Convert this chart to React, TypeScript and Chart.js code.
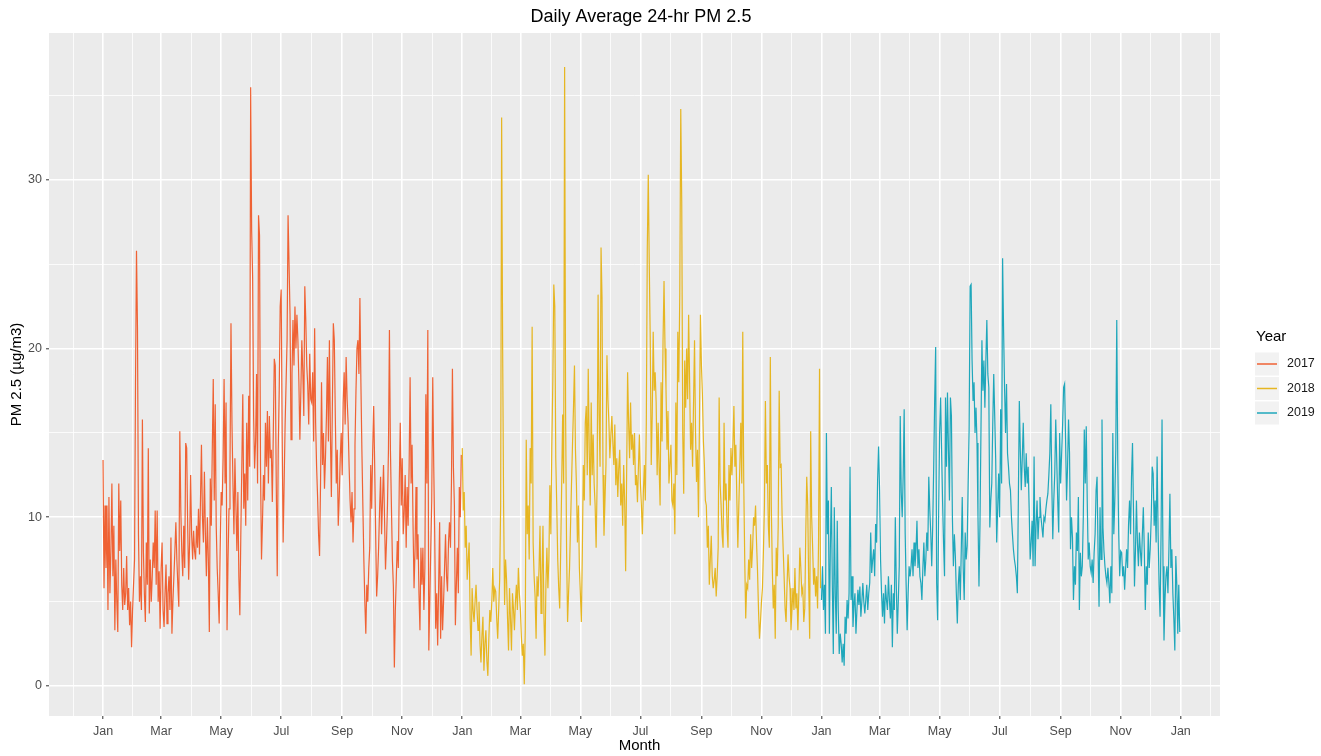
import React, { useEffect, useRef } from "react";
import { Chart, registerables } from "chart.js";

Chart.register(...registerables);

// ---------- data (daily 24-hr PM 2.5, µg/m3) ----------
const years = ["2017", "2018", "2019"];
const yearOffsets = [0, 365, 730]; // day index of 1 Jan of each year, counted from 1 Jan 2017

const pm2017 = [
  13.4, 5.8, 10.7, 7.0, 10.7, 4.5, 11.2, 5.5, 8.0, 12.0,
  6.5, 9.5, 3.3, 7.5, 5.0, 3.2, 12.0, 8.0, 11.0, 6.0,
  4.5, 7.0, 4.8, 5.5, 7.7, 4.5, 5.8, 3.6, 5.0, 2.3,
  4.5, 6.0, 7.5, 18.0, 25.8, 21.2, 9.0, 5.0, 6.5, 4.5,
  15.8, 8.0, 5.5, 3.8, 8.5, 6.0, 14.1, 4.3, 7.5, 5.0,
  6.5, 8.5, 7.0, 10.4, 6.0, 10.4, 5.0, 6.8, 3.4, 7.0,
  8.5, 4.5, 3.5, 5.5, 7.2, 3.7, 5.5, 6.5, 4.5, 8.8,
  3.1, 5.0, 6.5, 8.0, 9.7, 7.5, 6.0, 4.7, 15.1, 10.5,
  8.0, 6.5, 9.5, 7.0, 14.4, 14.1, 9.5, 6.3, 8.5, 12.5,
  9.0, 7.5, 9.2, 8.0, 7.5, 9.5, 8.2, 10.5, 7.8, 11.0,
  14.3, 10.0, 8.5, 12.7, 9.0, 6.5, 10.0, 7.5, 3.2, 12.3,
  9.5, 14.0, 18.2, 11.0, 16.7, 9.5, 7.0, 5.5, 3.7, 8.0,
  11.5, 10.7, 13.5, 18.2, 12.0, 16.8, 3.3, 7.5, 10.5, 13.0,
  21.5, 15.6, 12.0, 9.0, 13.5, 10.7, 8.0, 11.5, 6.5, 4.2,
  9.0, 13.0, 17.3, 10.5, 12.6, 9.5, 15.6, 11.0, 17.2, 13.0,
  35.5, 27.0, 24.2, 16.0, 12.9, 14.5, 18.5, 12.0, 27.9, 26.7,
  13.0, 7.5, 9.7, 12.5, 11.0, 15.6, 13.0, 16.3, 12.0, 16.0,
  13.5, 14.0, 10.9, 15.0, 19.4, 19.0, 12.0, 6.5, 14.0, 17.5,
  22.5, 23.5, 15.0, 8.5, 12.0, 15.5, 18.0, 20.5, 27.9, 25.0,
  22.0, 14.6, 18.5, 21.7, 19.0, 22.5, 20.0, 22.0, 20.5, 18.0,
  14.6, 17.5, 20.5, 18.6, 16.0, 23.7, 21.7, 19.0, 17.8, 15.5,
  19.7, 17.0, 16.8, 18.6, 14.5, 21.2, 15.6, 13.0, 11.2, 9.0,
  7.7, 12.0, 18.0, 13.1, 15.0, 11.7, 13.5, 16.0, 19.5, 14.5,
  20.5, 15.0, 11.2, 16.5, 21.5, 20.5, 16.0, 12.0, 14.0, 9.5,
  11.2, 13.5, 15.0, 12.5, 16.8, 18.6, 15.5, 19.5, 17.0, 15.6,
  13.1, 11.0, 9.7, 11.5, 8.5, 10.5, 14.3, 17.5, 20.0, 20.5,
  18.5, 23.0, 18.0, 14.0, 10.7, 7.5, 5.0, 3.1, 6.0, 5.0,
  7.0, 8.2, 13.1, 10.5, 14.0, 16.6, 13.1, 9.0, 5.3, 6.5,
  8.2, 10.5, 12.4, 9.0, 11.0, 13.1, 10.0, 6.9, 8.5, 10.7,
  14.0, 21.1, 14.0, 10.7, 7.5, 5.9, 1.1, 4.5, 6.5, 8.6,
  7.0, 12.0, 15.6, 10.7, 13.5, 9.0, 10.3, 12.5, 8.2, 11.8,
  9.5, 13.0, 18.3, 12.0, 14.3, 9.5, 5.8, 8.0, 11.8, 7.5,
  9.0, 5.5, 3.3, 8.2, 6.0, 8.2, 4.5, 7.0, 17.3, 12.0,
  21.1, 2.1, 5.0, 8.2, 11.0, 18.3, 13.1, 9.0, 3.4, 5.5,
  2.4, 6.0, 9.7, 2.8, 6.5, 3.3, 5.0, 7.0, 9.0, 6.5,
  5.6, 8.5, 9.7, 8.2, 12.0, 18.8, 13.0, 10.7, 3.6, 6.0,
  8.2, 5.5, 11.8, 10.0, 13.7,
];

const pm2018 = [
  14.1, 10.4, 11.5, 8.2, 9.5, 6.3, 7.5, 8.5, 4.0, 1.8,
  5.8, 4.5, 3.8, 5.0, 6.0, 4.5, 3.3, 5.0, 2.5, 1.4,
  3.0, 4.1, 0.9, 2.5, 3.3, 1.5, 0.6, 2.8, 4.5, 3.8,
  5.0, 7.0, 5.0, 5.8, 5.6, 4.0, 2.8, 4.5, 6.3, 10.7,
  33.7, 20.3, 10.7, 4.8, 7.5, 6.3, 4.0, 2.1, 5.8, 4.0,
  2.1, 5.5, 4.6, 3.3, 5.0, 6.0, 4.5, 7.0, 5.5, 4.6,
  3.0, 1.8, 2.5, 0.1, 3.3, 14.6, 9.0, 10.7, 7.5, 14.1,
  12.0, 21.3, 8.5, 6.5, 5.3, 2.8, 6.5, 5.3, 7.0, 9.5,
  4.3, 6.5, 9.5, 4.0, 1.8, 6.0, 8.2, 5.8, 7.5, 11.9,
  9.0, 14.3, 18.0, 23.8, 22.5, 13.5, 10.7, 7.5, 5.8, 4.6,
  8.0, 11.9, 16.1, 12.0, 36.7, 16.1, 8.0, 3.8, 5.5, 7.0,
  9.5, 12.0, 14.3, 16.5, 19.0, 14.0, 11.9, 8.5, 10.7, 7.0,
  5.5, 3.8, 8.0, 13.1, 11.0, 15.6, 16.6, 12.5, 18.8, 14.0,
  10.7, 16.8, 12.5, 14.9, 12.0, 10.7, 8.2, 12.0, 23.2, 16.1,
  13.0, 26.0, 23.0, 12.5, 8.9, 11.0, 13.1, 19.6, 17.0, 15.6,
  13.5, 14.9, 16.0, 14.4, 13.1, 15.5, 11.9, 13.5, 11.2, 12.9,
  14.0, 10.7, 12.0, 9.5, 13.1, 11.0, 6.8, 12.5, 18.6, 15.6,
  13.5, 16.8, 14.0, 14.9, 13.1, 15.0, 11.9, 12.5, 10.9, 13.0,
  14.9, 12.0, 10.7, 9.0, 11.5, 13.1, 11.0, 15.6, 26.0, 30.3,
  25.0, 20.5, 13.1, 16.0, 21.0, 17.5, 18.6, 16.8, 12.5, 15.6,
  13.0, 10.7, 18.0, 14.5, 20.5, 24.0, 20.0, 17.6, 14.0, 16.3,
  12.0, 13.1, 14.3, 11.0, 10.7, 12.0, 9.0, 16.8, 12.5, 21.0,
  18.0, 23.2, 34.2, 28.6, 15.0, 11.4, 19.3, 16.5, 20.0, 17.0,
  22.0, 18.0, 14.0, 15.6, 13.0, 16.8, 20.5, 15.0, 12.1, 14.0,
  10.0, 15.6, 22.0, 19.0, 17.3, 14.5, 13.1, 11.0, 10.7, 8.2,
  9.5, 6.0, 7.5, 8.9, 6.5, 5.8, 6.3, 7.0, 5.3, 6.5,
  8.2, 17.1, 12.0, 10.7, 9.0, 8.2, 15.6, 11.0, 12.0, 9.5,
  8.2, 13.1, 11.0, 14.1, 12.5, 14.3, 16.6, 13.0, 14.3, 11.0,
  8.2, 10.7, 13.0, 15.6, 12.0, 21.0, 12.0, 7.5, 4.0, 6.0,
  5.8, 7.5, 6.3, 9.0, 7.0, 8.2, 10.0, 9.5, 10.7, 8.5,
  6.8, 4.5, 2.8, 3.8, 5.0, 5.8, 8.0, 10.7, 16.9, 12.0,
  13.1, 9.5, 8.2, 19.5, 10.7, 7.0, 4.6, 6.0, 2.8, 8.2,
  6.5, 9.5, 17.5, 13.0, 13.1, 10.0, 8.2, 6.5, 4.6, 3.8,
  6.0, 7.8, 6.5, 5.8, 3.3, 4.5, 5.8, 4.5, 7.0, 4.6,
  5.5, 3.3, 5.5, 8.2, 7.0, 5.5, 5.8, 3.8, 4.6, 9.0,
  12.4, 10.7, 6.0, 2.8, 15.1, 10.0, 8.2, 6.0, 7.0, 5.3,
  6.5, 4.6, 8.5, 18.8, 5.8,
];

const pm2019 = [
  5.1, 7.1, 4.5, 6.0, 3.1, 15.0, 9.0, 11.0, 3.1, 8.2,
  11.8, 6.0, 1.9, 10.6, 5.5, 3.1, 9.8, 4.5, 1.9, 3.1,
  2.5, 1.4, 2.5, 1.2, 4.1, 3.1, 5.1, 4.0, 5.5, 13.0,
  5.1, 6.5, 3.5, 4.8, 5.5, 3.1, 4.5, 5.7, 4.8, 5.9,
  4.1, 5.0, 6.1, 5.0, 4.3, 5.1, 6.0, 4.5, 5.5, 6.1,
  9.1, 6.7, 7.5, 8.1, 6.5, 9.6, 8.5, 12.2, 14.2, 11.6,
  7.5, 5.5, 4.1, 5.5, 3.7, 6.0, 5.1, 4.5, 6.5, 5.1,
  4.0, 6.0, 2.3, 5.5, 4.5, 10.0, 6.0, 3.1, 5.0, 7.1,
  16.0, 11.5, 10.0, 12.5, 16.4, 9.1, 6.0, 3.3, 5.5, 7.1,
  6.5, 7.1, 8.1, 6.5, 8.5, 7.1, 8.0, 9.8, 7.0, 8.1,
  6.5, 6.1, 5.1, 7.0, 8.5, 6.5, 7.5, 9.1, 8.0, 12.4,
  10.5, 9.1, 7.1, 9.5, 13.0, 17.0, 20.1, 6.1, 3.9, 10.0,
  15.0, 17.1, 14.0, 11.0, 8.5, 6.5, 17.1, 13.0, 17.4, 14.0,
  11.0, 17.1, 16.0, 10.0, 7.1, 9.0, 7.7, 5.5, 3.7, 6.0,
  7.1, 5.1, 8.0, 11.2, 7.0, 5.1, 9.1, 7.5, 8.3, 12.0,
  15.2, 23.7, 23.8, 19.3, 16.9, 18.0, 15.0, 16.5, 14.4, 10.0,
  5.9, 9.5, 15.0, 20.5, 17.5, 19.3, 16.5, 19.3, 21.7, 18.5,
  17.7, 9.4, 11.0, 12.0, 15.5, 18.5, 16.0, 13.4, 8.5, 10.5,
  12.6, 10.0, 16.4, 12.0, 25.35, 21.1, 17.7, 15.0, 17.9, 13.8,
  13.0, 12.0, 11.6, 10.0, 9.0, 8.1, 7.5, 7.1, 6.5, 5.5,
  11.0, 16.9, 14.0, 11.6, 13.5, 15.6, 13.0, 11.8, 13.8, 12.0,
  13.0, 10.5, 7.5, 8.5, 9.8, 7.1, 13.6, 7.1, 9.5, 11.0,
  8.7, 10.0, 11.2, 10.0, 9.4, 8.8, 10.0, 9.8, 10.5, 11.0,
  11.4, 12.5, 13.8, 16.7, 12.0, 8.7, 11.0, 12.6, 15.8, 13.4,
  11.0, 9.1, 15.0, 12.0, 13.8, 15.5, 17.7, 17.9, 14.6, 11.0,
  13.0, 15.8, 13.8, 8.1, 10.0, 8.8, 5.1, 7.1, 6.0, 9.1,
  8.0, 11.2, 4.5, 7.9, 6.5, 7.1, 10.0, 15.2, 12.0, 15.4,
  11.0, 7.5, 8.5, 7.1, 6.7, 7.5, 6.1, 7.9, 9.0, 11.6,
  12.4, 8.0, 4.7, 10.6, 7.5, 15.8, 9.4, 8.0, 7.1, 6.5,
  6.1, 7.0, 6.1, 4.9, 7.1, 5.5, 15.0, 9.0, 11.0, 14.0,
  21.7, 13.4, 9.0, 6.5, 8.0, 7.9, 6.5, 7.1, 5.7, 7.0,
  8.1, 7.0, 9.6, 11.0, 9.0, 12.4, 14.4, 10.4, 5.9, 8.0,
  11.0, 8.5, 7.1, 9.1, 8.0, 7.1, 9.0, 10.6, 8.0, 4.5,
  7.1, 6.0, 9.1, 7.0, 8.1, 10.0, 13.0, 12.6, 9.5, 11.0,
  8.5, 13.6, 9.1, 6.0, 4.1, 9.0, 15.8, 7.1, 2.7, 5.1,
  6.5, 7.1, 5.5, 8.1, 11.4, 7.0, 8.1, 5.5, 4.0, 2.1,
  7.7, 6.0, 3.1, 6.0, 3.2,
];

const seriesValues = [pm2017, pm2018, pm2019];

// ---------- axis ticks ----------
const monthLabels = ["Jan", "Mar", "May", "Jul", "Sep", "Nov"];
const monthStartDays = [0, 59, 120, 181, 243, 304];
const finalJanDay = 1095; // 1 Jan 2020
const yMajorTicks = [0, 10, 20, 30];
const yMinorTicks = [5, 15, 25, 35];

// ---------- styling ----------
const yearColors = ["#EF6234", "#E6B622", "#1FA7BB"];
const FONT = "'Liberation Sans', Arial, Helvetica, sans-serif";
const X_MIN = -54.9;
const X_MAX = 1134.9;
const Y_MIN = -1.78;
const Y_MAX = 38.71;

const xMajor: { value: number; label: string }[] = [];
yearOffsets.forEach((off) => {
  monthStartDays.forEach((d, i) => xMajor.push({ value: off + d, label: monthLabels[i] }));
});
xMajor.push({ value: finalJanDay, label: monthLabels[0] });
const xMajorVals = xMajor.map((t) => t.value);
const xBounds = [-61, ...xMajorVals, finalJanDay + 60];
const xMinorVals: number[] = [];
for (let i = 0; i < xBounds.length - 1; i++) {
  const m = (xBounds[i] + xBounds[i + 1]) / 2;
  if (m > X_MIN && m < X_MAX) xMinorVals.push(m);
}
const xAllTicks = [...xMajorVals, ...xMinorVals].sort((a, b) => a - b);
const xLabelMap = new Map(xMajor.map((t) => [t.value, t.label]));
const yAllTicks = [...yMajorTicks, ...yMinorTicks].sort((a, b) => a - b);

const isXMajor = (v: number) => xLabelMap.has(v);
const isYMajor = (v: number) => yMajorTicks.includes(v);

const panelPlugin = {
  id: "panelBg",
  beforeDraw(chart: any) {
    const { ctx, chartArea: a } = chart;
    ctx.save();
    ctx.fillStyle = "#FFFFFF";
    ctx.fillRect(0, 0, chart.width, chart.height);
    ctx.fillStyle = "#EBEBEB";
    ctx.fillRect(a.left, a.top, a.right - a.left, a.bottom - a.top);
    ctx.restore();
  },
};

const textPlugin = {
  id: "ggText",
  afterDraw(chart: any) {
    const { ctx, chartArea: a } = chart;
    ctx.save();
    ctx.fillStyle = "#000000";
    ctx.textBaseline = "middle";
    // title
    ctx.font = `18px ${FONT}`;
    ctx.textAlign = "center";
    ctx.fillText("Daily Average 24-hr PM 2.5", 641, 17);
    // x axis title
    ctx.font = `15px ${FONT}`;
    ctx.fillText("Month", (a.left + a.right) / 2 + 5, 746);
    // y axis title
    ctx.save();
    ctx.translate(17, (a.top + a.bottom) / 2);
    ctx.rotate(-Math.PI / 2);
    ctx.fillText("PM 2.5 (µg/m3)", 0, 0);
    ctx.restore();
    // legend
    ctx.textAlign = "left";
    ctx.font = `15px ${FONT}`;
    ctx.fillText("Year", 1256, 337);
    const centers = [364, 388.5, 413];
    years.forEach((y, i) => {
      const cy = centers[i];
      ctx.fillStyle = "#F2F2F2";
      ctx.fillRect(1255, cy - 11.5, 24, 23);
      ctx.strokeStyle = yearColors[i];
      ctx.lineWidth = 1.5;
      ctx.beginPath();
      ctx.moveTo(1257, cy);
      ctx.lineTo(1277, cy);
      ctx.stroke();
      ctx.fillStyle = "#1A1A1A";
      ctx.font = `12.5px ${FONT}`;
      ctx.fillText(y, 1287, cy);
    });
    ctx.restore();
  },
};

export default function App() {
  const canvasRef = useRef<HTMLCanvasElement | null>(null);

  useEffect(() => {
    if (!canvasRef.current) return;
    const datasets = seriesValues.map((vals, i) => ({
      label: years[i],
      data: vals.map((v, d) => ({ x: yearOffsets[i] + d, y: v })),
      borderColor: yearColors[i],
      backgroundColor: yearColors[i],
      borderWidth: 1.2,
      pointRadius: 0,
      tension: 0,
      fill: false,
      order: 2 - i,
    }));

    const chart = new Chart(canvasRef.current, {
      type: "line",
      data: { datasets },
      options: {
        animation: false,
        responsive: false,
        devicePixelRatio: 1,
        layout: { padding: { top: 33, right: 101, bottom: 0, left: 0 } },
        plugins: {
          legend: { display: false },
          title: { display: false },
          tooltip: { enabled: false },
        },
        scales: {
          x: {
            type: "linear",
            min: X_MIN,
            max: X_MAX,
            afterBuildTicks: (scale: any) => {
              scale.ticks = xAllTicks.map((v) => ({ value: v }));
            },
            afterFit: (scale: any) => {
              scale.height = 40;
            },
            border: { display: false },
            grid: {
              color: "#FFFFFF",
              lineWidth: (c: any) => (c.tick && isXMajor(c.tick.value) ? 1.6 : 0.8),
              tickColor: (c: any) => (c.tick && isXMajor(c.tick.value) ? "#333333" : "rgba(0,0,0,0)"),
              tickWidth: 1,
              tickLength: 3,
              drawTicks: true,
            },
            ticks: {
              autoSkip: false,
              maxRotation: 0,
              minRotation: 0,
              padding: 5,
              color: "#4D4D4D",
              font: { family: FONT, size: 12.5 },
              callback: (v: any) => xLabelMap.get(Number(v)) ?? "",
            },
          },
          y: {
            type: "linear",
            min: Y_MIN,
            max: Y_MAX,
            afterBuildTicks: (scale: any) => {
              scale.ticks = yAllTicks.map((v) => ({ value: v }));
            },
            afterFit: (scale: any) => {
              scale.width = 49;
            },
            border: { display: false },
            grid: {
              color: "#FFFFFF",
              lineWidth: (c: any) => (c.tick && isYMajor(c.tick.value) ? 1.6 : 0.8),
              tickColor: (c: any) => (c.tick && isYMajor(c.tick.value) ? "#333333" : "rgba(0,0,0,0)"),
              tickWidth: 1,
              tickLength: 3,
              drawTicks: true,
            },
            ticks: {
              autoSkip: false,
              padding: 4,
              color: "#4D4D4D",
              font: { family: FONT, size: 12.5 },
              callback: (v: any) => (isYMajor(Number(v)) ? String(v) : ""),
            },
          },
        },
      },
      plugins: [panelPlugin, textPlugin],
    });

    return () => chart.destroy();
  }, []);

  return (
    <div
      style={{
        position: "fixed",
        left: 0,
        top: 0,
        width: 1321,
        height: 756,
        background: "#FFFFFF",
      }}
    >
      <canvas ref={canvasRef} width={1321} height={756} style={{ display: "block", width: 1321, height: 756 }} />
    </div>
  );
}
